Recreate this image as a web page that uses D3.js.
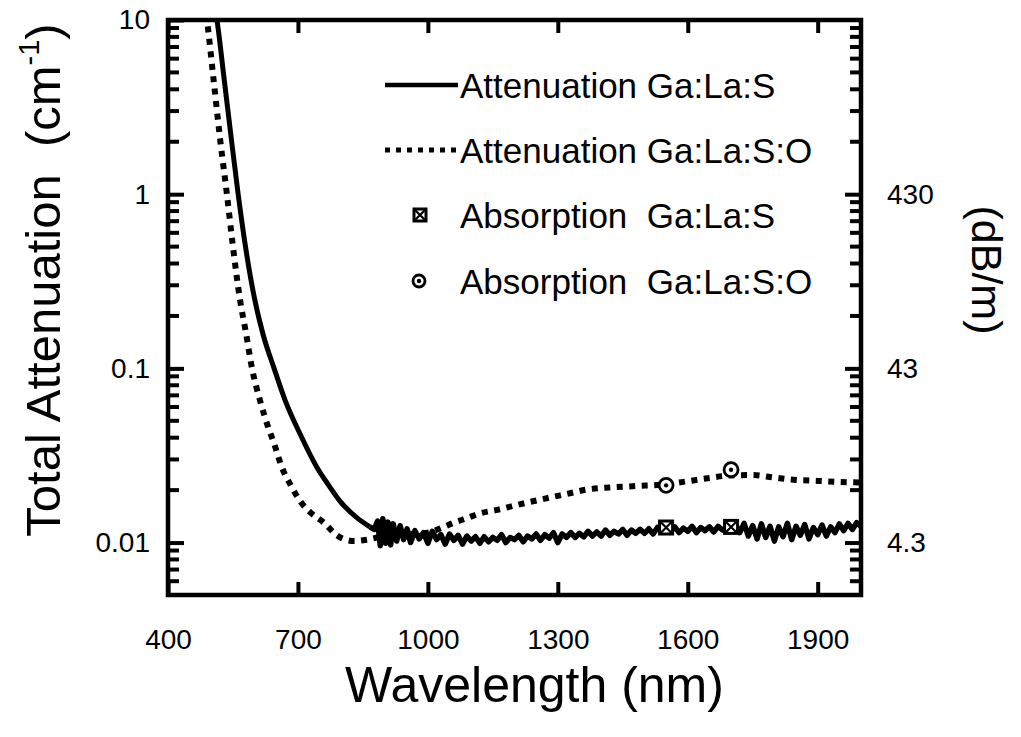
<!DOCTYPE html>
<html>
<head>
<meta charset="utf-8">
<script src="https://cdn.jsdelivr.net/npm/d3@7"></script>
<style>
  body { margin: 0; background: #fff; }
  svg.vis { display: block; font-family: "Liberation Sans", Arial, sans-serif; }
</style>
</head>
<body>
<svg class="vis" width="1021" height="737"></svg>
<script>

// x ticks (nm) and y ticks (cm^-1), right axis labels in dB/m
const xTicks = [400, 700, 1000, 1300, 1600, 1900];
const yTicks = [10, 1, 0.1, 0.01];
const yMinorTicks = [0.005, 0.006, 0.007, 0.008, 0.009,
                     0.02, 0.03, 0.04, 0.05, 0.06, 0.07, 0.08, 0.09,
                     0.2, 0.3, 0.4, 0.5, 0.6, 0.7, 0.8, 0.9,
                     2, 3, 4, 5, 6, 7, 8, 9];
const yRightTicks = [1, 0.1, 0.01];
const yRightLabels = ['430', '43', '4.3'];

// Attenuation Ga:La:S  [nm, cm^-1] - smooth edge, then the noisy plateau
const attGLS = [
  [500, 15], [513, 10], [530, 4.5], [545, 2.2], [562, 1.0], [580, 0.48], [600, 0.25],
  [620, 0.155], [645, 0.10], [670, 0.066], [705, 0.042], [744, 0.027], [770, 0.0215],
  [797, 0.0173], [836, 0.0139], [866, 0.0123],
  [876, 0.0119], [884, 0.0133], [890, 0.0096], [896, 0.0137], [902, 0.0099], [908, 0.0131],
  [914, 0.0097], [920, 0.0128], [928, 0.0102], [936, 0.0125], [944, 0.0104], [952, 0.0120],
  [960, 0.0100], [970, 0.0117], [980, 0.0105], [990, 0.0114],
  [1000, 0.0099], [1010, 0.0116], [1020, 0.0104], [1030, 0.0111], [1040, 0.0098], [1050, 0.0112],
  [1060, 0.0103], [1070, 0.0110], [1080, 0.0098], [1090, 0.0109], [1100, 0.0102], [1110, 0.0108],
  [1120, 0.0099], [1130, 0.0108], [1140, 0.0101], [1150, 0.0107], [1160, 0.0103], [1170, 0.0111],
  [1180, 0.0100], [1190, 0.0107], [1200, 0.0104], [1210, 0.0110], [1220, 0.0101], [1230, 0.0109],
  [1240, 0.0105], [1250, 0.0112], [1260, 0.0103], [1270, 0.0111], [1280, 0.0106], [1290, 0.0114],
  [1300, 0.0100], [1310, 0.0112], [1320, 0.0107], [1330, 0.0114], [1340, 0.0107], [1350, 0.0113],
  [1360, 0.0108], [1370, 0.0116], [1380, 0.0109], [1390, 0.0115], [1400, 0.0109], [1410, 0.0118],
  [1420, 0.0110], [1430, 0.0116], [1440, 0.0112], [1450, 0.0119], [1460, 0.0110], [1470, 0.0118],
  [1480, 0.0113], [1490, 0.0119], [1500, 0.0113], [1510, 0.0120], [1520, 0.0112], [1530, 0.0122],
  [1540, 0.0115], [1550, 0.0120], [1560, 0.0115], [1570, 0.0123], [1580, 0.0114], [1590, 0.0121],
  [1600, 0.0116], [1610, 0.0124], [1620, 0.0114], [1630, 0.0122], [1640, 0.0117], [1650, 0.0123],
  [1660, 0.0115], [1670, 0.0124], [1680, 0.0118], [1690, 0.0122], [1700, 0.0117], [1710, 0.0127],
  [1720, 0.0114], [1730, 0.0129], [1740, 0.0109], [1750, 0.0125], [1760, 0.0105], [1770, 0.0128],
  [1780, 0.0107], [1790, 0.0124], [1800, 0.0102], [1810, 0.0123], [1820, 0.0108], [1830, 0.0129],
  [1840, 0.0104], [1850, 0.0124], [1860, 0.0110], [1870, 0.0127], [1880, 0.0105], [1890, 0.0122],
  [1900, 0.0111], [1910, 0.0126], [1920, 0.0109], [1930, 0.0123], [1940, 0.0114], [1950, 0.0128],
  [1960, 0.0117], [1970, 0.0129], [1980, 0.0119], [1990, 0.0130], [2000, 0.0124]
];

// Attenuation Ga:La:S:O  [nm, cm^-1]
const attGLSO = [
  [480, 15], [490, 10], [505, 4.6], [520, 2.1], [536, 1.0], [550, 0.5], [566, 0.25],
  [580, 0.16], [594, 0.10], [612, 0.066], [630, 0.047], [645, 0.037], [663, 0.027],
  [685, 0.021], [705, 0.0173], [730, 0.0148], [760, 0.0130], [790, 0.0110], [810, 0.0104],
  [830, 0.0102], [860, 0.0104], [890, 0.0108], [920, 0.0111], [960, 0.0112], [1000, 0.0114],
  [1030, 0.0121], [1060, 0.0130], [1090, 0.0138], [1120, 0.0147], [1160, 0.0154], [1200, 0.0163],
  [1240, 0.0172], [1280, 0.0181], [1320, 0.0190], [1370, 0.0202], [1420, 0.0207], [1480, 0.0211],
  [1550, 0.0216], [1600, 0.0225], [1650, 0.0235], [1700, 0.0243], [1750, 0.0244], [1800, 0.0236],
  [1850, 0.0229], [1900, 0.0226], [1950, 0.0223], [2000, 0.0221]
];

// Absorption points
const absGLS = [[1550, 0.0122], [1700, 0.0123]];
const absGLSO = [[1550, 0.0213], [1700, 0.0262]];

const legendLabels = ['Attenuation Ga:La:S', 'Attenuation Ga:La:S:O',
                      'Absorption\u00a0 Ga:La:S', 'Absorption\u00a0 Ga:La:S:O'];

const v = {

    elems : {
        svg : 'svg.vis'
    },

    sizings : {
        left : 168,
        right : 861,
        top : 20,
        bottom : 595,
        noiseFrom : 866
    },

    scales : {

        x : null,
        y : null,

        make : () => {
            const s = v.sizings;
            v.scales.x = d3.scaleLinear().domain([400, 2000]).range([s.left, s.right]);
            v.scales.y = d3.scaleLog().domain([0.005, 10]).range([s.bottom, s.top]);
        }

    },

    axes : {

        render : () => {

            const svg = d3.select(v.elems.svg);
            const s = v.sizings;
            const x = v.scales.x, y = v.scales.y;

            const g = svg.append('g').classed('axes', true)
                .style('font-family', '"Liberation Sans", Arial, sans-serif');

            g.append('g')
              .attr('transform', `translate(${s.left},0)`)
              .call(d3.axisLeft(y).tickValues(yTicks).tickSize(-16).tickPadding(18)
                    .tickFormat(d3.format('~g')));

            g.append('g')
              .attr('transform', `translate(${s.right},0)`)
              .call(d3.axisRight(y).tickValues(yRightTicks).tickSize(-16).tickPadding(26)
                    .tickFormat((d, i) => yRightLabels[i]));

            g.append('g')
              .attr('transform', `translate(0,${s.bottom})`)
              .call(d3.axisBottom(x).tickValues(xTicks).tickSize(-13).tickPadding(34)
                    .tickFormat(d3.format('d')));

            g.append('g')
              .attr('transform', `translate(0,${s.top})`)
              .call(d3.axisTop(x).tickValues(xTicks).tickSize(-13).tickFormat(() => ''));

            g.selectAll('.domain').remove();
            g.selectAll('.tick line').attr('stroke', '#000').attr('stroke-width', 4);
            g.selectAll('.tick text').attr('font-size', 28).attr('fill', '#000');

            // minor log ticks, both sides, pointing inward
            [[s.left, 1], [s.right, -1]].forEach(([x0, dir]) => {
                g.append('g').classed('minor', true)
                  .selectAll('line')
                  .data(yMinorTicks)
                  .join('line')
                  .attr('x1', x0).attr('x2', x0 + dir * 11)
                  .attr('y1', d => y(d)).attr('y2', d => y(d))
                  .attr('stroke', '#000').attr('stroke-width', 4);
            });

            // frame
            svg.append('rect')
              .attr('x', s.left).attr('y', s.top)
              .attr('width', s.right - s.left).attr('height', s.bottom - s.top)
              .attr('fill', 'none').attr('stroke', '#000').attr('stroke-width', 4.5);

            // titles
            svg.append('text')
              .attr('x', (s.left + s.right) / 2 + 20).attr('y', 702)
              .attr('text-anchor', 'middle').attr('font-size', 50)
              .text('Wavelength (nm)');

            const yt = svg.append('text')
              .attr('transform', 'translate(60,280) rotate(-90)')
              .attr('text-anchor', 'middle').attr('font-size', 49);
            yt.append('tspan').text('Total Attenuation\u00a0 (cm');
            yt.append('tspan').attr('font-size', 29).attr('dy', -21).text('-1');
            yt.append('tspan').attr('dy', 21).text(')');

            svg.append('text')
              .attr('transform', 'translate(972,270) rotate(90)')
              .attr('text-anchor', 'middle').attr('font-size', 43)
              .text('(dB/m)');

        }

    },

    plot : {

        squareX : (sel, size) => {
            const h = size / 2;
            sel.append('rect')
              .attr('x', -h).attr('y', -h).attr('width', size).attr('height', size)
              .attr('fill', '#fff').attr('stroke', '#000').attr('stroke-width', 3);
            sel.append('path')
              .attr('d', `M${-h},${-h}L${h},${h}M${h},${-h}L${-h},${h}`)
              .attr('stroke', '#000').attr('stroke-width', 2.2);
        },

        circleDot : (sel, r) => {
            sel.append('circle').attr('r', r)
              .attr('fill', '#fff').attr('stroke', '#000').attr('stroke-width', 2.8);
            sel.append('circle').attr('r', 2.2).attr('fill', '#000');
        },

        render : () => {

            const svg = d3.select(v.elems.svg);
            const s = v.sizings;
            const x = v.scales.x, y = v.scales.y;

            svg.append('clipPath').attr('id', 'clip')
              .append('rect')
              .attr('x', s.left).attr('y', s.top)
              .attr('width', s.right - s.left).attr('height', s.bottom - s.top);

            const smooth = d3.line()
              .x(d => x(d[0])).y(d => y(d[1]))
              .curve(d3.curveMonotoneX);

            const rough = d3.line()
              .x(d => x(d[0])).y(d => y(d[1]));

            const g = svg.append('g').attr('clip-path', 'url(#clip)');

            g.append('path')
              .datum(attGLSO)
              .attr('d', smooth)
              .attr('fill', 'none').attr('stroke', '#000')
              .attr('stroke-width', 6).attr('stroke-dasharray', '6 6.5');

            // absorption edge drawn smooth, the plateau keeps its measured jitter
            g.append('path')
              .datum(attGLS.filter(d => d[0] <= s.noiseFrom))
              .attr('d', smooth)
              .attr('fill', 'none').attr('stroke', '#000')
              .attr('stroke-width', 5);

            g.append('path')
              .datum(attGLS.filter(d => d[0] >= s.noiseFrom))
              .attr('d', rough)
              .attr('fill', 'none').attr('stroke', '#000')
              .attr('stroke-width', 5.5).attr('stroke-linejoin', 'round');

            g.selectAll('g.abs-gls')
              .data(absGLS)
              .join('g')
              .classed('abs-gls', true)
              .attr('transform', d => `translate(${x(d[0])},${y(d[1])})`)
              .each(function () { v.plot.squareX(d3.select(this), 13); });

            g.selectAll('g.abs-glso')
              .data(absGLSO)
              .join('g')
              .classed('abs-glso', true)
              .attr('transform', d => `translate(${x(d[0])},${y(d[1])})`)
              .each(function () { v.plot.circleDot(d3.select(this), 7); });

        }

    },

    legend : {

        render : () => {

            const svg = d3.select(v.elems.svg);
            const rows = [85, 150, 215, 281];
            const g = svg.append('g').classed('legend', true);

            g.append('line')
              .attr('x1', 385).attr('x2', 458).attr('y1', rows[0]).attr('y2', rows[0])
              .attr('stroke', '#000').attr('stroke-width', 4.5);

            g.append('line')
              .attr('x1', 385).attr('x2', 458).attr('y1', rows[1]).attr('y2', rows[1])
              .attr('stroke', '#000').attr('stroke-width', 5).attr('stroke-dasharray', '5 6');

            v.plot.squareX(g.append('g').attr('transform', `translate(420,${rows[2]})`), 12);
            v.plot.circleDot(g.append('g').attr('transform', `translate(419,${rows[3]})`), 6);

            g.selectAll('text')
              .data(legendLabels)
              .join('text')
              .attr('x', 460)
              .attr('y', (d, i) => rows[i])
              .attr('dy', '0.36em')
              .attr('font-size', 35)
              .text(d => d);

        }

    },

    ctrl : {

        init : () => {
            v.scales.make();
            v.plot.render();
            v.axes.render();
            v.legend.render();
        }

    }

};

v.ctrl.init();
</script>
</body>
</html>
